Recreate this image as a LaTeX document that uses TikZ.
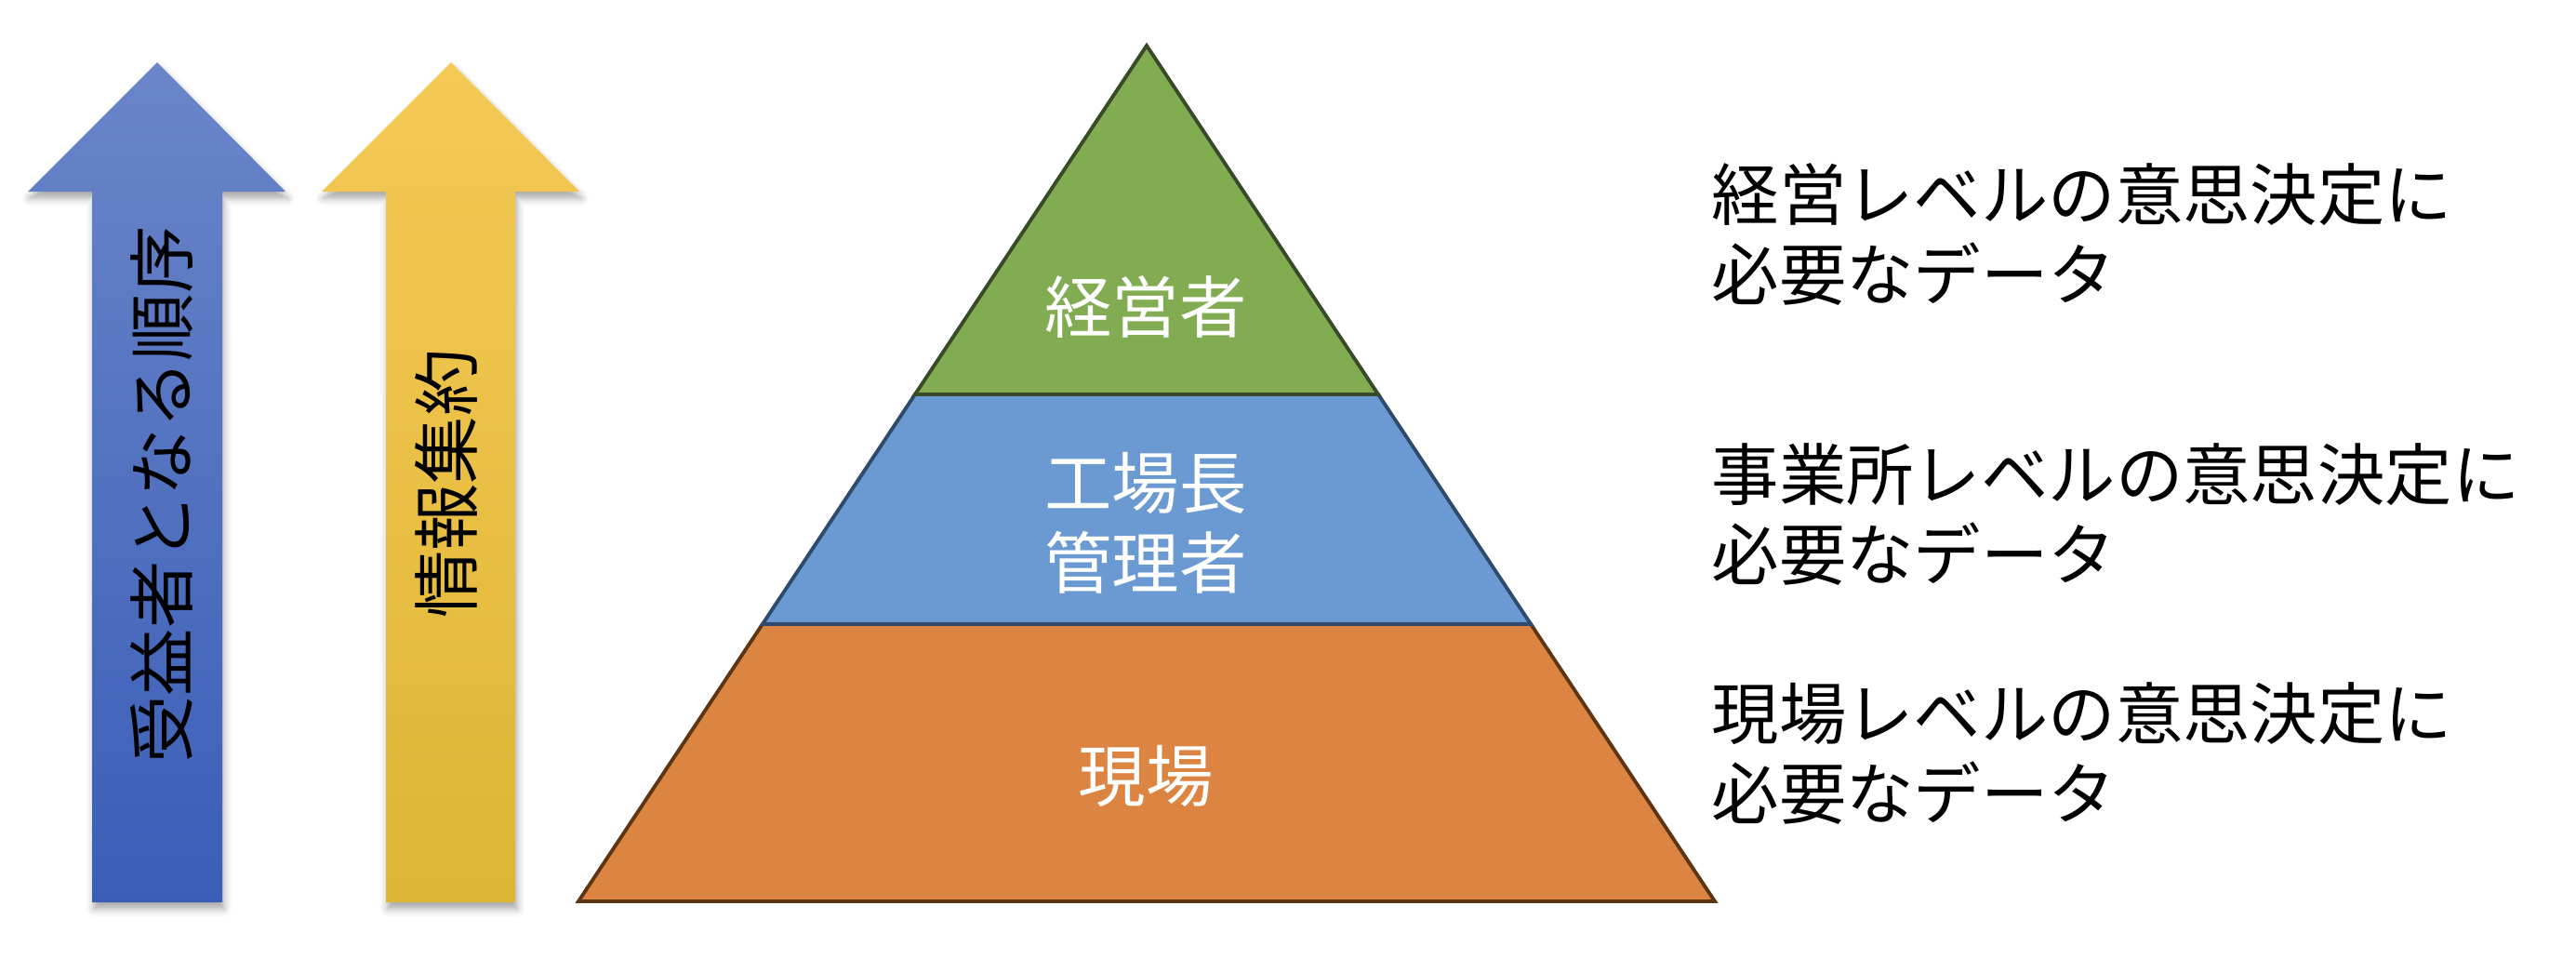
\documentclass[tikz,border=0pt]{standalone}
\usepackage{fontspec}
\setmainfont{Noto Sans CJK JP}
\usetikzlibrary{calc,shadows.blur}

\definecolor{aoue}{HTML}{6A85C9}
\definecolor{aoshita}{HTML}{3A5EB7}
\definecolor{kiue}{HTML}{F5C955}
\definecolor{kishita}{HTML}{DDB634}
\definecolor{midori}{HTML}{82AC52}
\definecolor{midoriwaku}{HTML}{384A27}
\definecolor{ao}{HTML}{6A9AD1}
\definecolor{aowaku}{HTML}{2F4A6C}
\definecolor{daidai}{HTML}{DC8441}
\definecolor{daidaiwaku}{HTML}{5C3613}

\tikzset{
	yajirushi/.style={blur shadow={shadow xshift=0.02cm, shadow yshift=-0.07cm, shadow blur radius=0.08cm, shadow opacity=35}},
	moji/.style={font=\fontsize{20.6}{24.5}\selectfont, inner sep=0pt},
	kaiso/.style={line width=1.1pt, line join=miter},
}

\begin{document}
\begin{tikzpicture}[y=-1cm]
		\useasboundingbox (0,0) rectangle (27.70,10.30);
		% 矢印(受益者)
		\path [yajirushi, top color=aoue, bottom color=aoshita]
		(1.69,0.67) -- (3.07,2.06) -- (2.39,2.06) -- (2.39,9.70)
		-- (0.99,9.70) -- (0.99,2.06) -- (0.30,2.06) -- cycle;
		\node [moji, rotate=90] (jueki) at (1.74,5.32) {受益者となる順序};
		% 矢印(情報集約)
		\path [yajirushi, top color=kiue, bottom color=kishita]
		(4.85,0.67) -- (6.23,2.06) -- (5.54,2.06) -- (5.54,9.70)
		-- (4.15,9.70) -- (4.15,2.06) -- (3.46,2.06) -- cycle;
		\node [moji, rotate=90] (shuyaku) at (4.80,5.20) {情報集約};
		% ピラミッド
		\coordinate (chojo) at (12.33,0.49);
		\coordinate (hidari) at (6.22,9.69);
		\coordinate (migi) at (18.44,9.69);
		\coordinate (h1) at ($(chojo)!0.4076!(hidari)$);
		\coordinate (m1) at ($(chojo)!0.4076!(migi)$);
		\coordinate (h2) at ($(chojo)!0.676!(hidari)$);
		\coordinate (m2) at ($(chojo)!0.676!(migi)$);
		\draw [kaiso, fill=daidai, draw=daidaiwaku] (h2) -- (m2) -- (migi) -- (hidari) -- cycle;
		\draw [kaiso, fill=ao, draw=aowaku] (h1) -- (m1) -- (m2) -- (h2) -- cycle;
		\draw [kaiso, fill=midori, draw=midoriwaku] (chojo) -- (m1) -- (h1) -- cycle;
		\node [moji, white] (keiei) at (12.32,3.30) {経営者};
		\node [moji, white, align=center] (kojo) at (12.32,5.62) {工場長\\管理者};
		\node [moji, white] (genba) at (12.32,8.34) {現場};
		% 説明
		\node [moji, anchor=west, align=left] (setsu1) at (18.40,2.52) {経営レベルの意思決定に\\必要なデータ};
		\node [moji, anchor=west, align=left] (setsu2) at (18.40,5.53) {事業所レベルの意思決定に\\必要なデータ};
		\node [moji, anchor=west, align=left] (setsu3) at (18.40,8.10) {現場レベルの意思決定に\\必要なデータ};
	\end{tikzpicture}
\end{document}
